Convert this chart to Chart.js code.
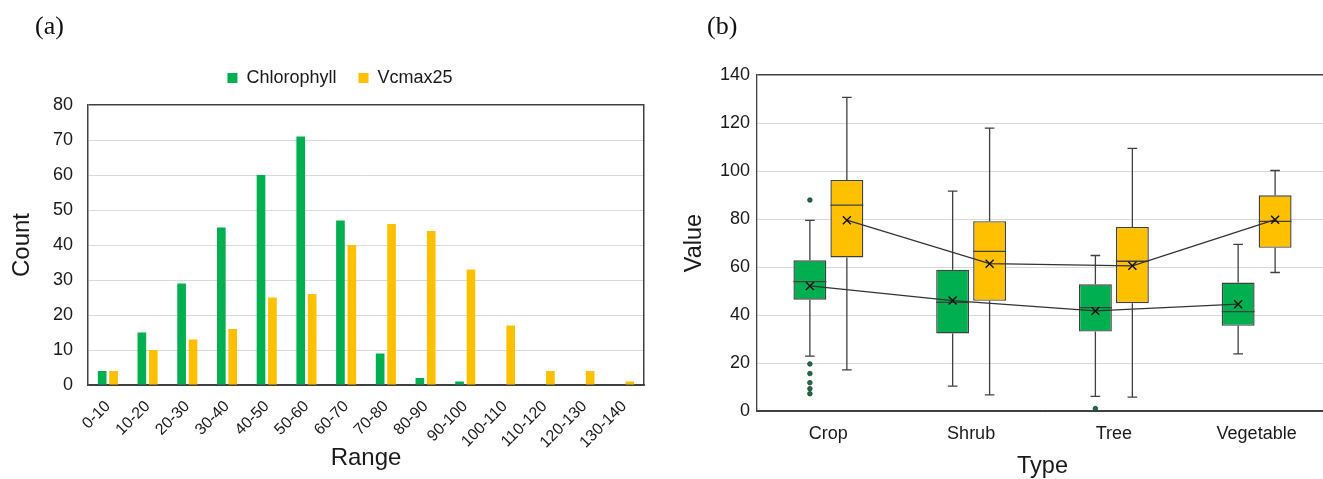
<!DOCTYPE html>
<html>
<head>
<meta charset="utf-8">
<script src="https://cdn.jsdelivr.net/npm/chart.js@4.4.0/dist/chart.umd.min.js"></script>
<style>
html, body { margin: 0; padding: 0; background: #fff; overflow: hidden; width: 1323px; height: 479px; }
#wrapA { position: absolute; left: 0; top: 0; width: 680px; height: 479px; }
#wrapB { position: absolute; left: 660px; top: 0; width: 680px; height: 479px; }
</style>
</head>
<body>
<div id="wrapA"><canvas id="chartA" width="680" height="479"></canvas></div>
<div id="wrapB"><canvas id="chartB" width="680" height="479"></canvas></div>
<script>
// (a) histogram data
var ranges = ['0-10', '10-20', '20-30', '30-40', '40-50', '50-60', '60-70', '70-80',
  '80-90', '90-100', '100-110', '110-120', '120-130', '130-140'];
var chlorophyll = [4, 15, 29, 45, 60, 71, 47, 9, 2, 1, 0, 0, 0, 0];
var vcmax25 = [4, 10, 13, 16, 25, 26, 40, 46, 44, 33, 17, 4, 4, 1];

// (b) box plot data
var types = ['Crop', 'Shrub', 'Tree', 'Vegetable'];
var chlMin = [22.9, 10.4, 6.1, 23.8];
var chlQ1 = [46.4, 32.3, 33.1, 35.5];
var chlMedian = [53.9, 45.3, 43.1, 41.4];
var chlQ3 = [62.8, 58.9, 52.8, 53.5];
var chlMax = [79.4, 91.6, 64.8, 69.4];
var chlMean = [52.1, 46.0, 41.7, 44.5];
var chlOutliers = [[87.9, 19.6, 15.6, 11.8, 9.3, 7.2], [], [1.0], []];

var vcMin = [17.1, 6.7, 5.8, 57.7];
var vcQ1 = [64.0, 45.9, 44.9, 68.0];
var vcMedian = [85.8, 66.5, 62.4, 79.0];
var vcQ3 = [96.3, 79.1, 76.7, 89.9];
var vcMax = [130.7, 117.9, 109.4, 100.2];
var vcMean = [79.5, 61.4, 60.5, 79.7];
var vcOutliers = [[], [], [], []];

var GREEN = '#00b050';
var YELLOW = '#ffc000';
var AXIS = '#404040';
var GRID = '#d9d9d9';
var FONT = '"Liberation Sans", Arial, sans-serif';

// draws "(a)" / "(b)"
var panelLabel = {
  id: 'panelLabel',
  afterDraw: function(chart, args, opts) {
    var ctx = chart.ctx;
    ctx.save();
    ctx.font = '26px "Liberation Serif", "Times New Roman", serif';
    ctx.fillStyle = '#111';
    ctx.textBaseline = 'middle';
    ctx.fillText(opts.text, opts.x, opts.y);
    ctx.restore();
  }
};

// fixed legend height
var legendHeight = {
  id: 'legendHeight',
  beforeInit: function(chart) {
    var fit = chart.legend.fit;
    chart.legend.fit = function() {
      fit.call(this);
      this.height = 58;
    };
  }
};

new Chart(document.getElementById('chartA'), {
  type: 'bar',
  data: {
    labels: ranges,
    datasets: [
      { label: 'Chlorophyll', data: chlorophyll, backgroundColor: GREEN, yAxisID: 'y' },
      { label: 'Vcmax25', data: vcmax25, backgroundColor: YELLOW, yAxisID: 'y' }
    ]
  },
  options: {
    responsive: false,
    animation: false,
    devicePixelRatio: 1,
    barPercentage: 0.76,
    categoryPercentage: 0.574,
    layout: { padding: { top: 47, left: 0, right: 0, bottom: 0 } },
    plugins: {
      legend: {
        display: true,
        position: 'top',
        labels: { boxWidth: 10, boxHeight: 10, padding: 22, color: '#1a1a1a', font: { family: FONT, size: 18 } }
      },
      tooltip: { enabled: false },
      panelLabel: { text: '(a)', x: 35, y: 27 }
    },
    scales: {
      x: {
        grid: { display: false },
        border: { color: AXIS, width: 1.5 },
        ticks: { color: '#1a1a1a', font: { family: FONT, size: 16 }, maxRotation: 45, minRotation: 45, autoSkip: false, padding: 4 },
        title: { display: true, text: 'Range', color: '#1a1a1a', font: { family: FONT, size: 24, lineHeight: 1 }, padding: { top: 0, bottom: 9 } },
        afterFit: function(s) { s.height = 94; }
      },
      y: {
        min: 0, max: 80,
        ticks: { stepSize: 10, color: '#1a1a1a', font: { family: FONT, size: 18 }, padding: 15 },
        grid: {
          drawTicks: false,
          lineWidth: function(c) { return (c.tick && c.tick.value === 80) ? 1.5 : 1; },
          color: function(c) { return (c.tick && (c.tick.value === 80 || c.tick.value === 0)) ? AXIS : GRID; }
        },
        border: { color: AXIS, width: 1.5 },
        title: { display: true, text: 'Count', color: '#1a1a1a', font: { family: FONT, size: 24, lineHeight: 1 }, padding: { top: 10, bottom: 0 } },
        afterFit: function(s) { s.width = 88; }
      },
      y2: {
        position: 'right',
        ticks: { display: false },
        grid: { drawOnChartArea: false, drawTicks: false },
        border: { display: true, color: AXIS, width: 1.5 },
        afterFit: function(s) { s.width = 36; }
      }
    }
  },
  plugins: [panelLabel, legendHeight]
});

// whiskers, medians, means, outliers
var boxExtras = {
  id: 'boxExtras',
  afterDatasetsDraw: function(chart) {
    var ctx = chart.ctx;
    var y = chart.scales.y;
    var stats = [
      { min: chlMin, med: chlMedian, q1: chlQ1, q3: chlQ3, max: chlMax, mean: chlMean, out: chlOutliers },
      { min: vcMin, med: vcMedian, q1: vcQ1, q3: vcQ3, max: vcMax, mean: vcMean, out: vcOutliers }
    ];
    ctx.save();
    stats.forEach(function(s, d) {
      var meta = chart.getDatasetMeta(d);
      var pts = [];
      meta.data.forEach(function(bar, i) {
        var x = bar.x, half = bar.width / 2, cap = 4.8;
        var yMax = y.getPixelForValue(s.max[i]);
        var yMin = y.getPixelForValue(s.min[i]);
        ctx.strokeStyle = AXIS;
        ctx.lineWidth = 1.3;
        ctx.beginPath();
        ctx.moveTo(x, y.getPixelForValue(s.q3[i])); ctx.lineTo(x, yMax);
        ctx.moveTo(x - cap, yMax); ctx.lineTo(x + cap, yMax);
        ctx.moveTo(x, y.getPixelForValue(s.q1[i])); ctx.lineTo(x, yMin);
        ctx.moveTo(x - cap, yMin); ctx.lineTo(x + cap, yMin);
        var yMed = y.getPixelForValue(s.med[i]);
        ctx.moveTo(x - half, yMed); ctx.lineTo(x + half, yMed);
        ctx.stroke();
        s.out[i].forEach(function(v) {
          ctx.beginPath();
          ctx.arc(x, y.getPixelForValue(v), 2.3, 0, Math.PI * 2);
          ctx.fillStyle = '#1f6b45';
          ctx.fill();
          ctx.lineWidth = 0.8;
          ctx.strokeStyle = '#16452d';
          ctx.stroke();
        });
        pts.push([x, y.getPixelForValue(s.mean[i])]);
      });
      ctx.beginPath();
      pts.forEach(function(p, k) { if (k === 0) ctx.moveTo(p[0], p[1]); else ctx.lineTo(p[0], p[1]); });
      ctx.strokeStyle = '#333';
      ctx.lineWidth = 1.3;
      ctx.stroke();
      ctx.beginPath();
      pts.forEach(function(p) {
        ctx.moveTo(p[0] - 4, p[1] - 4); ctx.lineTo(p[0] + 4, p[1] + 4);
        ctx.moveTo(p[0] + 4, p[1] - 4); ctx.lineTo(p[0] - 4, p[1] + 4);
      });
      ctx.strokeStyle = '#111';
      ctx.lineWidth = 1.4;
      ctx.stroke();
    });
    ctx.restore();
  }
};

function boxes(q1, q3) {
  return q1.map(function(v, i) { return [v, q3[i]]; });
}

new Chart(document.getElementById('chartB'), {
  type: 'bar',
  data: {
    labels: types,
    datasets: [
      { label: 'Chlorophyll', data: boxes(chlQ1, chlQ3), backgroundColor: GREEN, borderColor: AXIS, borderWidth: 1.4, borderSkipped: false },
      { label: 'Vcmax25', data: boxes(vcQ1, vcQ3), backgroundColor: YELLOW, borderColor: AXIS, borderWidth: 1.4, borderSkipped: false }
    ]
  },
  options: {
    responsive: false,
    animation: false,
    devicePixelRatio: 1,
    barPercentage: 0.89,
    categoryPercentage: 0.518,
    layout: { padding: { top: 75, left: 0, right: 12, bottom: 0 } },
    plugins: {
      legend: { display: false },
      tooltip: { enabled: false },
      panelLabel: { text: '(b)', x: 47, y: 27 }
    },
    scales: {
      x: {
        grid: { display: false },
        border: { color: AXIS, width: 1.5 },
        ticks: { color: '#1a1a1a', font: { family: FONT, size: 18 }, padding: 4 },
        title: { display: true, text: 'Type', color: '#1a1a1a', font: { family: FONT, size: 23.5, lineHeight: 1 }, padding: { top: 0, bottom: 1 } },
        afterFit: function(s) { s.height = 68; }
      },
      y: {
        min: 0, max: 140,
        ticks: { stepSize: 20, color: '#1a1a1a', font: { family: FONT, size: 18 }, padding: 7 },
        grid: {
          drawTicks: false,
          lineWidth: function(c) { return (c.tick && c.tick.value === 140) ? 1.5 : 1; },
          color: function(c) { return (c.tick && (c.tick.value === 140 || c.tick.value === 0)) ? AXIS : GRID; }
        },
        border: { color: AXIS, width: 1.3 },
        title: { display: true, text: 'Value', color: '#1a1a1a', font: { family: FONT, size: 23.5, lineHeight: 1 }, padding: { top: 23, bottom: 0 } },
        afterFit: function(s) { s.width = 97; }
      }
    }
  },
  plugins: [panelLabel, boxExtras]
});
</script>
</body>
</html>
